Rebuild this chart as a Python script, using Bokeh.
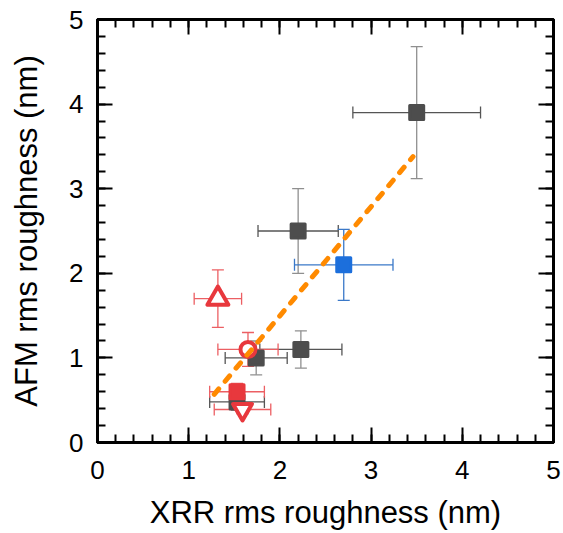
from bokeh.plotting import figure
from bokeh.models import LinearAxis, FixedTicker, Whisker, ColumnDataSource, TeeHead, Range1d
from bokeh.embed import file_html
from bokeh.resources import INLINE

# ---- data ----
gray_x = [3.50, 2.20, 2.23, 1.74, 1.53]
gray_y = [3.90, 2.50, 1.10, 1.00, 0.48]
gray_xerr = [0.70, 0.44, 0.45, 0.34, 0.30]
gray_yerr = [0.78, 0.50, 0.22, 0.20, 0.10]

blue_x = [2.70]
blue_y = [2.10]
blue_xerr = [0.54]
blue_yerr = [0.42]

rsq_x = [1.53]
rsq_y = [0.60]
rsq_xerr = [0.30]
rsq_yerr = [0.10]

rcirc_x = [1.65]
rcirc_y = [1.10]
rcirc_xerr = [0.33]
rcirc_yerr = [0.20]

rtri_x = [1.32]
rtri_y = [1.70]
rtri_xerr = [0.26]
rtri_yerr = [0.34]

rinv_x = [1.59]
rinv_y = [0.39]
rinv_xerr = [0.31]
rinv_yerr = [0.05]

fit_x = [1.28, 3.46]
fit_y = [0.57, 3.38]

major_ticks = [0, 1, 2, 3, 4, 5]
minor_ticks = [i * 0.2 for i in range(26)]

FONT = "Liberation Sans"
GRAY = "#4d4d4d"
BLUE = "#1c6fdc"
RED = "#e8383d"

p = figure(width=563, height=533, x_range=Range1d(0, 5), y_range=Range1d(0, 5),
           output_backend="svg", toolbar_location=None,
           min_border_left=97, min_border_right=10, min_border_top=19, min_border_bottom=91)
p.grid.visible = False
p.outline_line_color = "black"
p.outline_line_width = 3

x_bottom = p.below[0]
y_left = p.left[0]
x_top = LinearAxis()
y_right = LinearAxis()
p.add_layout(x_top, "above")
p.add_layout(y_right, "right")

for ax in [x_bottom, y_left, x_top, y_right]:
    ax.ticker = FixedTicker(ticks=major_ticks, minor_ticks=minor_ticks)
    ax.axis_line_color = "black"
    ax.axis_line_width = 3
    ax.major_tick_in = 15
    ax.major_tick_out = 0
    ax.minor_tick_in = 8
    ax.minor_tick_out = 0
    ax.major_tick_line_width = 2
    ax.minor_tick_line_width = 2
    ax.major_tick_line_color = "black"
    ax.minor_tick_line_color = "black"
    ax.major_label_text_font = FONT
    ax.major_label_text_font_size = "26px"
    ax.major_label_text_color = "black"
    ax.axis_label_text_font = FONT
    ax.axis_label_text_font_size = "31px"
    ax.axis_label_text_font_style = "normal"
    ax.axis_label_text_color = "black"

for ax in [x_top, y_right]:
    ax.major_label_overrides = {t: "" for t in major_ticks}
    ax.major_label_standoff = 0

x_bottom.axis_label = "XRR rms roughness (nm)"
y_left.axis_label = "AFM rms roughness (nm)"
x_bottom.major_label_standoff = 18
x_bottom.axis_label_standoff = 13
y_left.major_label_standoff = 14
y_left.axis_label_standoff = 22


def add_errors(xs, ys, xe, ye, hcol, vcol):
    src = ColumnDataSource(dict(
        x=xs, y=ys,
        xl=[a - b for a, b in zip(xs, xe)], xu=[a + b for a, b in zip(xs, xe)],
        yl=[a - b for a, b in zip(ys, ye)], yu=[a + b for a, b in zip(ys, ye)],
    ))
    wx = Whisker(base="y", lower="xl", upper="xu", dimension="width", source=src,
                 line_color=hcol, line_width=1.3,
                 upper_head=TeeHead(size=12, line_color=hcol, line_width=1.3),
                 lower_head=TeeHead(size=12, line_color=hcol, line_width=1.3))
    wy = Whisker(base="x", lower="yl", upper="yu", dimension="height", source=src,
                 line_color=vcol, line_width=1.3,
                 upper_head=TeeHead(size=12, line_color=vcol, line_width=1.3),
                 lower_head=TeeHead(size=12, line_color=vcol, line_width=1.3))
    p.add_layout(wx)
    p.add_layout(wy)


add_errors(gray_x, gray_y, gray_xerr, gray_yerr, "#555555", "#8f8f8f")
add_errors(blue_x, blue_y, blue_xerr, blue_yerr, "#3a78c8", "#3a78c8")
add_errors(rsq_x, rsq_y, rsq_xerr, rsq_yerr, "#ec5f63", "#ec5f63")
add_errors(rcirc_x, rcirc_y, rcirc_xerr, rcirc_yerr, "#ec5f63", "#ec5f63")
add_errors(rtri_x, rtri_y, rtri_xerr, rtri_yerr, "#ec5f63", "#ec5f63")
add_errors(rinv_x, rinv_y, rinv_xerr, rinv_yerr, "#ec5f63", "#ec5f63")

p.scatter(gray_x, gray_y, marker="square", size=14, fill_color=GRAY, line_color=GRAY,
          line_width=3, line_join="round")
p.scatter(blue_x, blue_y, marker="square", size=14, fill_color=BLUE, line_color=BLUE,
          line_width=3, line_join="round")
p.scatter(rsq_x, rsq_y, marker="square", size=14, fill_color=RED, line_color=RED,
          line_width=3, line_join="round")
p.scatter(rcirc_x, rcirc_y, marker="circle", size=15, fill_color="white", line_color=RED,
          line_width=4)
p.scatter(rtri_x, rtri_y, marker="triangle", size=21, fill_color="white", line_color=RED,
          line_width=4, line_join="round")
p.scatter(rinv_x, rinv_y, marker="inverted_triangle", size=19, fill_color="white",
          line_color=RED, line_width=4, line_join="round")

p.line(fit_x, fit_y, line_color="#ff8a00", line_width=5, line_dash="7 10", line_cap="round")

open("out.html", "w").write(file_html(p, INLINE))
